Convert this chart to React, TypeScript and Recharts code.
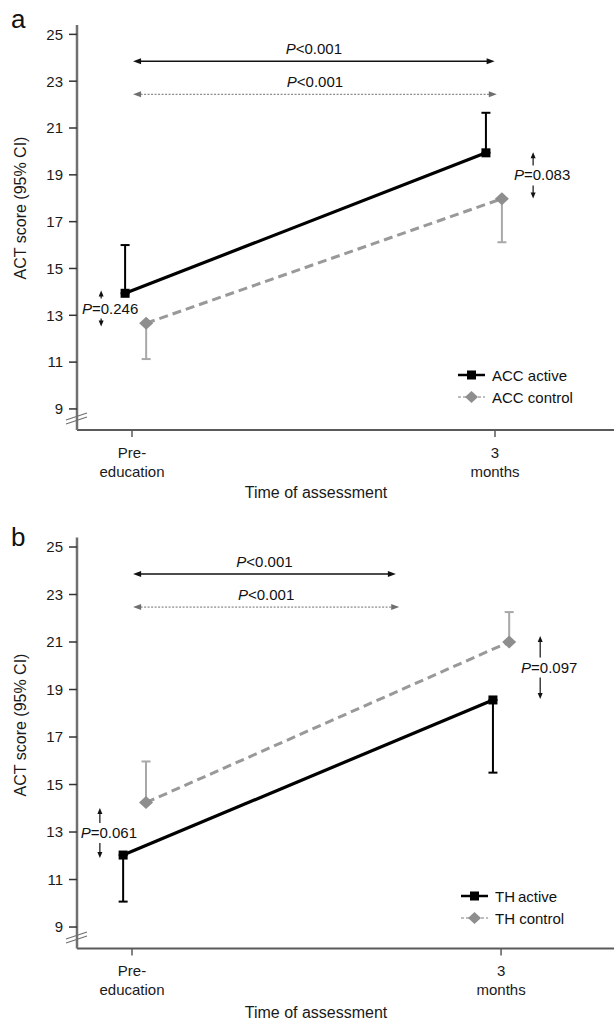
import { ErrorBar, Line, LineChart, ReferenceLine, XAxis, YAxis } from 'recharts';

const FONT = '"Liberation Sans", Arial, Helvetica, sans-serif';

// x positions: 0 = pre-education, 1 = 3 months
const timeTicks = [0, 1];
const timeLabels = [
    ['Pre-', 'education'],
    ['3', 'months'],
];
const scoreTicks = [9, 11, 13, 15, 17, 19, 21, 23, 25];

// panel a - ACC groups (means and the drawn side of the 95% CI)
const accActiveMean = [13.94, 19.94];
const accActiveUpperCI = [16.0, 21.65];
const accControlMean = [12.66, 17.98];
const accControlLowerCI = [11.13, 16.12];

// panel b - TH groups
const thActiveMean = [12.03, 18.56];
const thActiveLowerCI = [10.07, 15.5];
const thControlMean = [14.24, 21.0];
const thControlUpperCI = [15.97, 22.26];

// small horizontal dodge of each group around the time point
const accActiveDodge = [-0.019, -0.025];
const accControlDodge = [0.039, 0.019];
const thActiveDodge = [-0.024, -0.022];
const thControlDodge = [0.038, 0.022];

type Row = { x: number; y: number; ci: [number, number] };

const toRows = (mean: number[], dodge: number[], lower?: number[], upper?: number[]): Row[] =>
    mean.map((m, i) => ({
        x: timeTicks[i] + dodge[i],
        y: m,
        ci: [lower ? m - lower[i] : 0, upper ? upper[i] - m : 0],
    }));

type Bracket = { from: number; to: number; y: number; p: string; dotted?: boolean };
type Between = { x: number; top: number; bottom: number; p: string };

const panels = [
    {
        key: 'a',
        top: 0,
        height: 520,
        marginTop: 25,
        xAxisHeight: 90,
        xDomain: [-0.1515, 1.3278],
        active: toRows(accActiveMean, accActiveDodge, undefined, accActiveUpperCI),
        control: toRows(accControlMean, accControlDodge, accControlLowerCI, undefined),
        brackets: [
            { from: 0.003, to: 0.999, y: 23.85, p: '<0.001' },
            { from: 0.003, to: 1.005, y: 22.44, p: '<0.001', dotted: true },
        ] as Bracket[],
        between: [
            { x: -0.085, top: 14.06, bottom: 12.52, p: '=0.246' },
            { x: 1.105, top: 19.96, bottom: 17.99, p: '=0.083' },
        ] as Between[],
    },
    {
        key: 'b',
        top: 520,
        height: 501,
        marginTop: 17.5,
        xAxisHeight: 72.6,
        xDomain: [-0.149, 1.306],
        active: toRows(thActiveMean, thActiveDodge, thActiveLowerCI, undefined),
        control: toRows(thControlMean, thControlDodge, undefined, thControlUpperCI),
        brackets: [
            { from: 0.003, to: 0.715, y: 23.86, p: '<0.001' },
            { from: 0.003, to: 0.724, y: 22.47, p: '<0.001', dotted: true },
        ] as Bracket[],
        between: [
            { x: -0.087, top: 14.01, bottom: 11.91, p: '=0.061' },
            { x: 1.106, top: 21.25, bottom: 18.6, p: '=0.097' },
        ] as Between[],
    },
];

const legends = [
    { active: 'ACC active', control: 'ACC control', x: 458, y: 375 },
    { active: 'TH\u2009active', control: 'TH control', x: 461, y: 896 },
];

const ACTIVE = '#000000';
const CONTROL = '#999999';
const CONTROL_CI = '#a8a8a8';
const AXIS = '#707070';

const renderSquare = (p: any) => (
    <rect key={`sq-${p.index}`} x={p.cx - 4.5} y={p.cy - 4.5} width={9} height={9} fill={ACTIVE} />
);

const renderDiamond = (p: any) => (
    <polygon
        key={`dm-${p.index}`}
        points={`${p.cx},${p.cy - 6.5} ${p.cx + 7},${p.cy} ${p.cx},${p.cy + 6.5} ${p.cx - 7},${p.cy}`}
        fill="#8e8e8e"
    />
);

const PLabel = ({ x, y, p }: { x: number; y: number; p: string }) => (
    <text x={x} y={y} textAnchor="middle" fontSize={15} fontFamily={FONT} fill="#111">
        <tspan fontStyle="italic">P</tspan>
        <tspan>{p}</tspan>
    </text>
);

const bracketShape = (b: Bracket) => (props: any) => {
    const { x1, y1, x2 } = props;
    const color = b.dotted ? '#6f6f6f' : '#111';
    return (
        <g>
            <line
                x1={x1 + 4}
                y1={y1}
                x2={x2 - 4}
                y2={y1}
                stroke={color}
                strokeWidth={b.dotted ? 1 : 1.5}
                strokeDasharray={b.dotted ? '2 1.5' : undefined}
            />
            <polygon points={`${x1},${y1} ${x1 + 8},${y1 - 3} ${x1 + 8},${y1 + 3}`} fill={color} />
            <polygon points={`${x2},${y1} ${x2 - 8},${y1 - 3} ${x2 - 8},${y1 + 3}`} fill={color} />
            <PLabel x={(x1 + x2) / 2} y={y1 - 7} p={b.p} />
        </g>
    );
};

const betweenShape = (b: Between) => (props: any) => {
    const { x1, y1, y2 } = props;
    const mid = (y1 + y2) / 2;
    return (
        <g>
            <line x1={x1} y1={y1 + 5} x2={x1} y2={mid - 10} stroke="#111" strokeWidth={1.2} />
            <polygon points={`${x1},${y1} ${x1 - 2.5},${y1 + 6} ${x1 + 2.5},${y1 + 6}`} fill="#111" />
            <line x1={x1} y1={mid + 10} x2={x1} y2={y2 - 5} stroke="#111" strokeWidth={1.2} />
            <polygon points={`${x1},${y2} ${x1 - 2.5},${y2 - 6} ${x1 + 2.5},${y2 - 6}`} fill="#111" />
            <PLabel x={x1 + 9} y={mid + 5} p={b.p} />
        </g>
    );
};

const TimeTick = (props: any) => {
    const { x, y, payload } = props;
    const lines = timeLabels[timeTicks.indexOf(payload.value)] || [];
    return (
        <g>
            {lines.map((t, i) => (
                <text key={t} x={x} y={y + 21 + i * 19} textAnchor="middle" fontSize={15} fontFamily={FONT} fill="#1a1a1a">
                    {t}
                </text>
            ))}
        </g>
    );
};

function Panel({ cfg }: { cfg: (typeof panels)[number] }) {
    return (
        <div style={{ position: 'absolute', left: 0, top: cfg.top }}>
            <LineChart
                width={614}
                height={cfg.height}
                margin={{ top: cfg.marginTop, right: 0, bottom: 0, left: 0 }}
            >
                <XAxis
                    type="number"
                    dataKey="x"
                    domain={cfg.xDomain}
                    allowDataOverflow
                    ticks={timeTicks}
                    height={cfg.xAxisHeight}
                    tickSize={7}
                    tickMargin={0}
                    tick={<TimeTick />}
                    axisLine={{ stroke: '#5a5a5a', strokeWidth: 2 }}
                    tickLine={{ stroke: '#5a5a5a', strokeWidth: 1.5 }}
                />
                <YAxis
                    type="number"
                    domain={[8.1, 25.4]}
                    allowDataOverflow
                    ticks={scoreTicks}
                    width={77}
                    tickSize={8}
                    tickMargin={6}
                    axisLine={{ stroke: AXIS, strokeWidth: 2.5 }}
                    tickLine={{ stroke: '#333', strokeWidth: 1.5 }}
                    tick={{ fontSize: 15, fontFamily: FONT, fill: '#1a1a1a' }}
                />
                {cfg.brackets.map((b, i) => (
                    <ReferenceLine
                        key={`br-${i}`}
                        segment={[
                            { x: b.from, y: b.y },
                            { x: b.to, y: b.y },
                        ]}
                        ifOverflow="visible"
                        shape={bracketShape(b)}
                    />
                ))}
                {cfg.between.map((b, i) => (
                    <ReferenceLine
                        key={`bt-${i}`}
                        segment={[
                            { x: b.x, y: b.top },
                            { x: b.x, y: b.bottom },
                        ]}
                        ifOverflow="visible"
                        shape={betweenShape(b)}
                    />
                ))}
                <Line
                    data={cfg.active}
                    dataKey="y"
                    stroke={ACTIVE}
                    strokeWidth={3.2}
                    dot={renderSquare}
                    activeDot={false}
                    isAnimationActive={false}
                >
                    <ErrorBar dataKey="ci" direction="y" width={4.5} stroke={ACTIVE} strokeWidth={2} />
                </Line>
                <Line
                    data={cfg.control}
                    dataKey="y"
                    stroke={CONTROL}
                    strokeWidth={3}
                    strokeDasharray="9 5"
                    dot={renderDiamond}
                    activeDot={false}
                    isAnimationActive={false}
                >
                    <ErrorBar dataKey="ci" direction="y" width={4.5} stroke={CONTROL_CI} strokeWidth={2} />
                </Line>
            </LineChart>
        </div>
    );
}

function Overlay() {
    const yLabelCenters = [208, 725];
    const xTitleBaselines = [498, 1018];
    const letterBaselines = [28, 546];
    const axisBottoms = [430, 949];
    return (
        <svg
            width={614}
            height={1021}
            style={{ position: 'absolute', left: 0, top: 0, pointerEvents: 'none' }}
            fontFamily={FONT}
        >
            {panels.map((p, i) => (
                <g key={p.key}>
                    <text x={11} y={letterBaselines[i]} fontSize={26} fill="#111">
                        {p.key}
                    </text>
                    <text
                        x={20}
                        y={yLabelCenters[i]}
                        fontSize={16}
                        fill="#1a1a1a"
                        textAnchor="middle"
                        dominantBaseline="central"
                        transform={`rotate(-90 20 ${yLabelCenters[i]})`}
                    >
                        ACT score (95% CI)
                    </text>
                    <text x={316} y={xTitleBaselines[i]} fontSize={16} fill="#1a1a1a" textAnchor="middle">
                        Time of assessment
                    </text>
                    {/* axis break */}
                    <line x1={66} y1={axisBottoms[i] - 6} x2={87} y2={axisBottoms[i] - 13} stroke={AXIS} strokeWidth={1.3} />
                    <line x1={66} y1={axisBottoms[i] - 10} x2={87} y2={axisBottoms[i] - 17} stroke={AXIS} strokeWidth={1.3} />
                </g>
            ))}
            {legends.map((l) => (
                <g key={l.active}>
                    <line x1={l.x} y1={l.y} x2={l.x + 27} y2={l.y} stroke={ACTIVE} strokeWidth={2.5} />
                    <rect x={l.x + 9} y={l.y - 4.5} width={9} height={9} fill={ACTIVE} />
                    <text x={l.x + 34} y={l.y + 5.5} fontSize={15} fill="#111">
                        {l.active}
                    </text>
                    <line
                        x1={l.x}
                        y1={l.y + 22}
                        x2={l.x + 27}
                        y2={l.y + 22}
                        stroke={CONTROL_CI}
                        strokeWidth={1.5}
                        strokeDasharray="3 2"
                    />
                    <polygon
                        points={`${l.x + 13.5},${l.y + 16} ${l.x + 20},${l.y + 22} ${l.x + 13.5},${l.y + 28} ${l.x + 7},${l.y + 22}`}
                        fill="#8e8e8e"
                    />
                    <text x={l.x + 34} y={l.y + 27.5} fontSize={15} fill="#111">
                        {l.control}
                    </text>
                </g>
            ))}
        </svg>
    );
}

export default function App() {
    return (
        <div style={{ position: 'absolute', left: 0, top: 0, width: 614, height: 1021, background: '#fff' }}>
            {panels.map((p) => (
                <Panel key={p.key} cfg={p} />
            ))}
            <Overlay />
        </div>
    );
}
